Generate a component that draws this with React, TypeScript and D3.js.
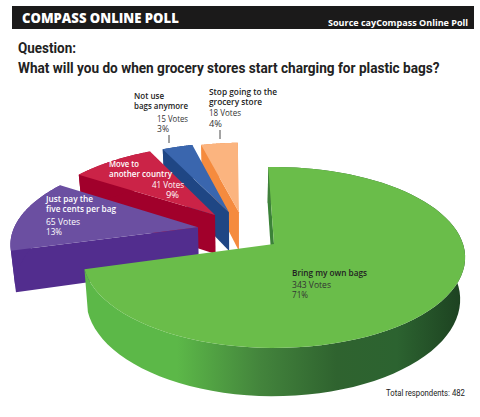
import React from "react";
import * as d3 from "d3";

const categories = ["Bring my own bags", "Just pay the five cents per bag", "Move to another country", "Not use bags anymore", "Stop going to the grocery store"];
const votes = [343, 65, 41, 15, 18];
const explodeU = [0, -0.414, -0.328, -0.252, -0.196];
const explodeV = [0, 0.196, 0.345, 0.38, 0.38];
const topColors = ["#6abd4a", "#6b4fa1", "#cb2347", "#3a66ae", "#fbb47f"];
const sideColors = ["url(#greenRim)", "#522d8e", "#a1002b", "#1f4684", "#f58b3e"];

const W = 480, H = 417;
const CX = 274, CY = 244, RX = 189, RY = 88.5, PERSP = 0.149, DEPTH = 41, CONV = 0.022, CONV_X = 240;
const START = (-2 * Math.PI) / 180;

const proj = (u: number, v: number, bottom: boolean): [number, number] => {
  const w = 1 / (1 + PERSP * v);
  let x = CX + RX * u * w;
  let y = CY - RY * v * w;
  if (bottom) {
    y += DEPTH * w;
    x += (CONV_X - x) * CONV;
  }
  return [x, y];
};

const pieGen = d3.pie<number>().sort(null).startAngle(START).endAngle(START + 2 * Math.PI);
const slices = pieGen(votes);
const lineGen = d3.line();

const arcPoints = (a0: number, a1: number, i: number, bottom: boolean) =>
  d3.range(0, 81).map((k) => {
    const a = d3.interpolateNumber(a0, a1)(k / 80);
    return proj(explodeU[i] + Math.sin(a), explodeV[i] + Math.cos(a), bottom);
  });

const fonts = "'Open Sans','Noto Sans',sans-serif";
const narrow = "'Roboto',sans-serif";

const ctx = document.createElement("canvas").getContext("2d")!;
// Text squeezed or stretched horizontally to a target width, so the box stays true.
const Fit = ({ x, y, t, width, size, weight = 400, family = fonts, c = "#222", anchor = "start" }: any) => {
  ctx.font = `${weight} ${size}px ${family}`;
  const natural = ctx.measureText(t).width || width;
  const sx = width / natural;
  return (
    <text transform={`translate(${x},${y}) scale(${sx},1)`} fill={c} fontFamily={family} fontSize={size} fontWeight={weight} textAnchor={anchor}>{t}</text>
  );
};

const Bold = (p: any) => <Fit size={8.2} weight={600} {...p} />;
const Plain = (p: any) => <Fit size={8.2} weight={400} c={p.c || "#333"} {...p} />;

export default function App() {
  const order = [4, 3, 2, 1, 0];
  return (
    <svg width={W} height={H} viewBox={`0 0 ${W} ${H}`} style={{ position: "absolute", left: 0, top: 0, background: "#fff" }}>
      <defs>
        <linearGradient id="greenRim" gradientUnits="userSpaceOnUse" x1={86} x2={465} y1={0} y2={0}>
          <stop offset="0" stopColor="#5cb848" />
          <stop offset="0.24" stopColor="#5cb848" />
          <stop offset="0.46" stopColor="#43843c" />
          <stop offset="0.66" stopColor="#2f632f" />
          <stop offset="0.82" stopColor="#2c6330" />
          <stop offset="1" stopColor="#1c4020" />
        </linearGradient>
      </defs>
      <rect x={12} y={6} width={462} height={23} fill="#1b1a1a" />
      <Fit x={22} y={23} t="COMPASS ONLINE POLL" width={157} size={14.5} weight={800} c="#fff" />
      <Fit x={328} y={26} t="Source cayCompass Online Poll" width={140} size={8.4} weight={700} c="#fff" />
      <Fit x={18} y={53} t="Question:" width={58} size={15} weight={700} family={narrow} />
      <Fit x={18} y={73} t="What will you do when grocery stores start charging for plastic bags?" width={422} size={15} weight={700} family={narrow} />

      {order.map((i) => {
        const s = slices[i];
        const apexT = proj(explodeU[i], explodeV[i], false);
        const apexB = proj(explodeU[i], explodeV[i], true);
        const edgeT = proj(explodeU[i] + Math.sin(s.startAngle), explodeV[i] + Math.cos(s.startAngle), false);
        const edgeB = proj(explodeU[i] + Math.sin(s.startAngle), explodeV[i] + Math.cos(s.startAngle), true);
        const top = arcPoints(s.startAngle, s.endAngle, i, false);
        const bot = arcPoints(s.startAngle, s.endAngle, i, true);
        const wallFill = i === 0 ? "#3b8238" : sideColors[i];
        return (
          <g key={categories[i]}>
            <path d={lineGen([apexT, edgeT, edgeB, apexB]) + "Z"} fill={wallFill} />
            <path d={lineGen([...top, ...bot.slice().reverse()]) + "Z"} fill={sideColors[i]} />
            <path d={lineGen([apexT, ...top]) + "Z"} fill={topColors[i]} />
          </g>
        );
      })}

      <Bold x={134} y={99} t="Not use" width={30} />
      <Bold x={134} y={109} t="bags anymore" width={54} />
      <Plain x={157} y={122} t={`${votes[3]} Votes`} width={31} />
      <Plain x={157} y={132} t="3%" width={12} />
      <line x1={169} x2={169} y1={135} y2={143} stroke="#333" strokeWidth={0.9} />

      <Bold x={209} y={95} t="Stop going to the" width={68} />
      <Bold x={209} y={105} t="grocery store" width={53} />
      <Plain x={209} y={116} t={`${votes[4]} Votes`} width={32} />
      <Plain x={209} y={127} t="4%" width={13} />
      <line x1={220} x2={220} y1={130} y2={139} stroke="#333" strokeWidth={0.9} />

      <Bold x={109} y={167} t="Move to" width={30} c="#fff" />
      <Bold x={109} y={177} t="another country" width={63} c="#fff" />
      <Plain x={152} y={188} t={`${votes[2]} Votes`} width={32} c="#fff" />
      <Plain x={166} y={198} t="9%" width={13} c="#fff" />

      <Bold x={46} y={202} t="Just pay the" width={47} c="#fff" />
      <Bold x={46} y={212} t="five cents per bag" width={70} c="#fff" />
      <Plain x={46} y={225} t={`${votes[1]} Votes`} width={34} c="#fff" />
      <Plain x={46} y={235} t="13%" width={16} c="#fff" />

      <Bold x={292} y={276} t="Bring my own bags" width={75} />
      <Plain x={292} y={288} t={`${votes[0]} Votes`} width={39} />
      <Plain x={292} y={298} t="71%" width={16} />

      <Fit x={386} y={396} t="Total respondents: 482" width={79} size={9.5} family={narrow} />
    </svg>
  );
}
